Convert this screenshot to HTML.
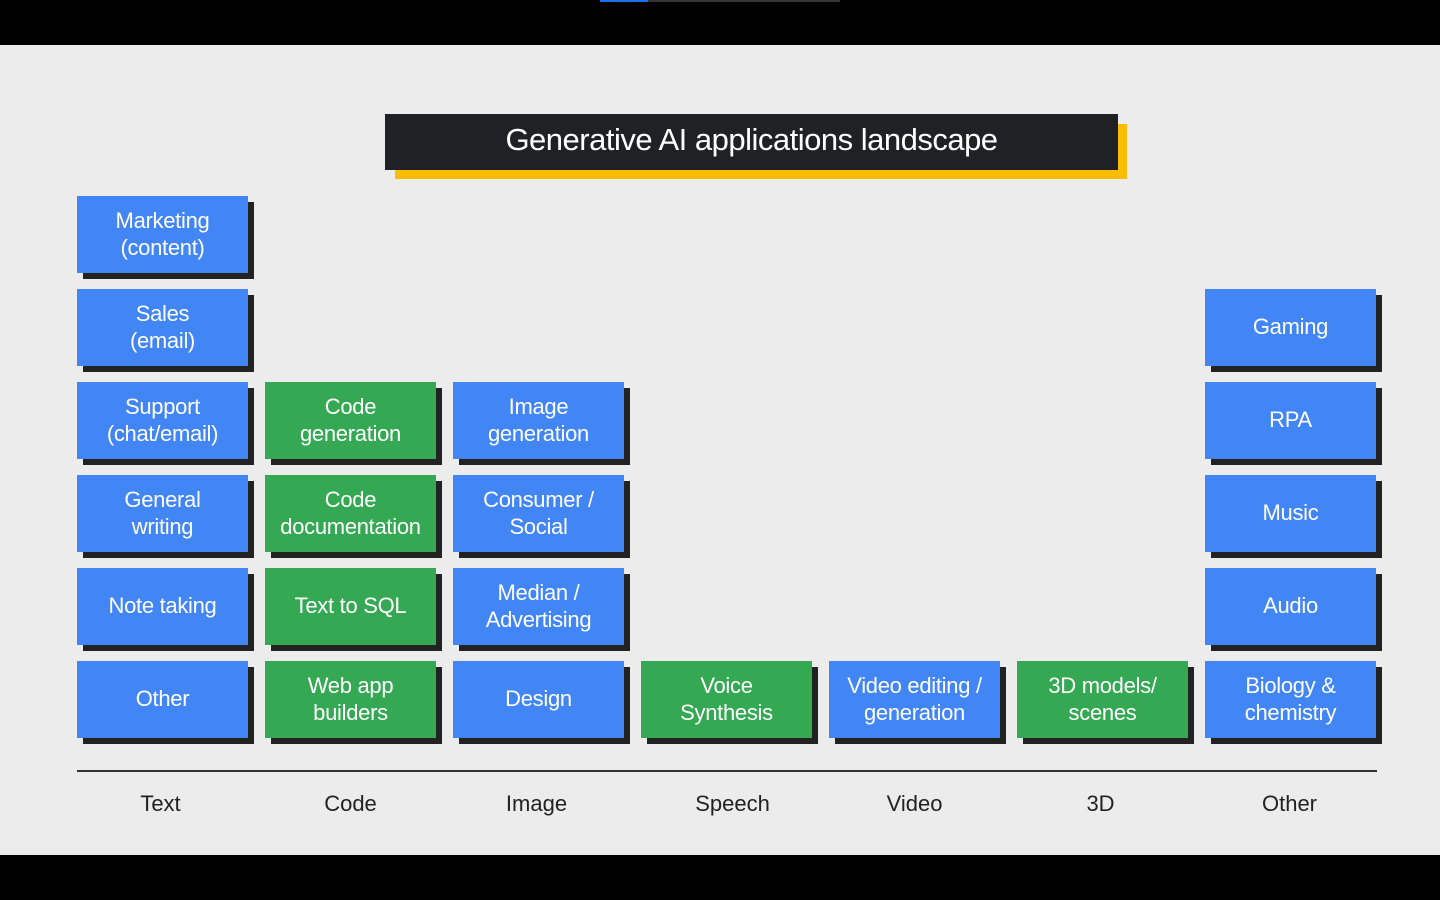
<!DOCTYPE html>
<html><head><meta charset="utf-8"><style>
*{margin:0;padding:0;box-sizing:border-box}
body{width:1440px;height:900px;background:#000;position:relative;overflow:hidden;font-family:"Liberation Sans",sans-serif}
.bg{position:absolute;left:0;top:45px;width:1440px;height:810px;background:#ececec}
.b{position:absolute;width:171px;height:77px;color:#fff;font-size:22px;line-height:27px;display:flex;align-items:center;justify-content:center;text-align:center;box-shadow:6px 6px 0 #222;letter-spacing:-0.3px;padding-bottom:2px}
.bl{background:#4285f4}.gr{background:#34a853}
.lab{position:absolute;top:791px;width:171px;text-align:center;font-size:22px;color:#222}
</style></head><body>
<div style="position:absolute;left:600px;top:0;width:48px;height:2px;background:#1a73e8"></div>
<div style="position:absolute;left:648px;top:0;width:192px;height:2px;background:#333"></div>
<div class="bg"></div>
<div style="position:absolute;left:395px;top:124px;width:732px;height:55px;background:#fbbc04"></div>
<div style="position:absolute;left:385px;top:114px;width:733px;height:56px;background:#202124;color:#fff;font-size:31px;display:flex;align-items:center;justify-content:center;letter-spacing:-0.5px;padding-bottom:4px">Generative AI applications landscape</div>

<div class="b bl" style="left:77px;top:196px">Marketing<br>(content)</div>
<div class="b bl" style="left:77px;top:289px">Sales<br>(email)</div>
<div class="b bl" style="left:77px;top:382px">Support<br>(chat/email)</div>
<div class="b bl" style="left:77px;top:475px">General<br>writing</div>
<div class="b bl" style="left:77px;top:568px">Note taking</div>
<div class="b bl" style="left:77px;top:661px">Other</div>

<div class="b gr" style="left:265px;top:382px">Code<br>generation</div>
<div class="b gr" style="left:265px;top:475px">Code<br>documentation</div>
<div class="b gr" style="left:265px;top:568px">Text to SQL</div>
<div class="b gr" style="left:265px;top:661px">Web app<br>builders</div>

<div class="b bl" style="left:453px;top:382px">Image<br>generation</div>
<div class="b bl" style="left:453px;top:475px">Consumer /<br>Social</div>
<div class="b bl" style="left:453px;top:568px">Median /<br>Advertising</div>
<div class="b bl" style="left:453px;top:661px">Design</div>

<div class="b gr" style="left:641px;top:661px">Voice<br>Synthesis</div>
<div class="b bl" style="left:829px;top:661px">Video editing /<br>generation</div>
<div class="b gr" style="left:1017px;top:661px">3D models/<br>scenes</div>

<div class="b bl" style="left:1205px;top:289px">Gaming</div>
<div class="b bl" style="left:1205px;top:382px">RPA</div>
<div class="b bl" style="left:1205px;top:475px">Music</div>
<div class="b bl" style="left:1205px;top:568px">Audio</div>
<div class="b bl" style="left:1205px;top:661px">Biology &amp;<br>chemistry</div>

<div style="position:absolute;left:77px;top:770px;width:1300px;height:2px;background:#333"></div>
<div class="lab" style="left:75px">Text</div>
<div class="lab" style="left:265px">Code</div>
<div class="lab" style="left:451px">Image</div>
<div class="lab" style="left:647px">Speech</div>
<div class="lab" style="left:829px">Video</div>
<div class="lab" style="left:1015px">3D</div>
<div class="lab" style="left:1204px">Other</div>
</body></html>
